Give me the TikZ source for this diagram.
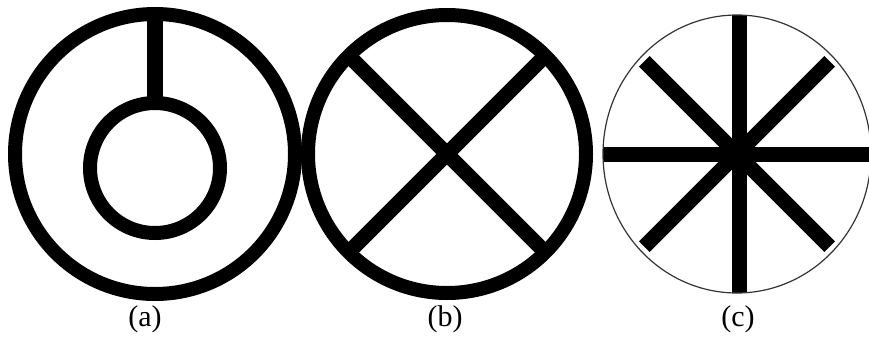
\documentclass[tikz,border=0pt]{standalone}
\usepackage{fontspec}
\setmainfont{Liberation Serif}

\begin{document}
\begin{tikzpicture}[
        x=1pt, y=-1pt,
        ring/.style={draw=black, line width=14pt},
        thinring/.style={draw=black!80, line width=1.2pt},
        bar/.style={draw=black, line width=15pt},
        caption/.style={font=\fontsize{30}{34}\selectfont, inner sep=0pt},
    ]
        \useasboundingbox (0,0) rectangle (869,340);

        % (a) ring with inner ring on a stem
        \coordinate (ca) at (155,154);
        \coordinate (cai) at (155,168);
        \draw[ring] (ca) circle[radius=140];
        \draw[ring] (cai) circle[radius=65];
        \draw[bar, line width=16pt] (155,14) -- (155,103);
        \node[caption] (laba) at (145,319) {(a)};

        % (b) ring with cross
        \coordinate (cb) at (447,154);
        \draw[bar] (cb) ++(135:140) -- ++(-45:280);
        \draw[bar] (cb) ++(45:140) -- ++(-135:280);
        \draw[ring] (cb) circle[radius=139];
        \node[caption] (labb) at (445,319) {(b)};

        % (c) thin circle with eight spokes
        \coordinate (cc) at (737,154);
        \begin{scope}
            \clip (cc) ellipse[x radius=134, y radius=139];
            \foreach \ang in {45,135} {
                \draw[bar] (cc) ++(\ang:131) -- ++(\ang+180:262);
            }
            \draw[bar] (739.5,10) -- (739.5,300);
        \end{scope}
        \draw[bar] (603,154.5) -- (869,154.5);
        \draw[thinring] (cc) ellipse[x radius=134, y radius=139];
        \node[caption] (labc) at (738,319) {(c)};
    \end{tikzpicture}
\end{document}
